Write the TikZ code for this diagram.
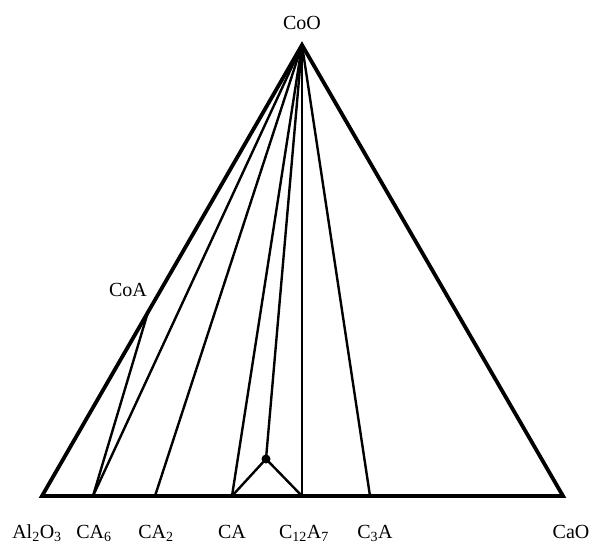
\documentclass[tikz,border=0pt]{standalone}
\usepackage{fontspec}
\setmainfont{Liberation Serif}
\begin{document}
\begin{tikzpicture}[x=1pt,y=-1pt,
  lbl/.style={font=\fontsize{20}{22}\selectfont,anchor=base,inner sep=0pt},
  outer/.style={line width=3.8pt,line join=miter},
  tie/.style={line width=2.4pt},
  thin/.style={line width=1.3pt}]
\useasboundingbox (0,0) rectangle (590,543);
\coordinate (A) at (42,496);
\coordinate (T) at (302,45);
\coordinate (C) at (563,496);
\coordinate (CoA) at (148,312);
\coordinate (CA6) at (93,496);
\coordinate (CA2) at (155,496);
\coordinate (CA) at (232,496);
\coordinate (C12) at (302,496);
\coordinate (C3A) at (370,496);
\coordinate (P) at (266,459);
% ties
\draw[tie] (T) -- (CA6);
\draw[tie] (T) -- (CA2);
\draw[tie] (T) -- (CA);
\draw[tie] (T) -- (P);
\draw[thin] (T) -- (C12);
\draw[tie] (T) -- (C3A);
\draw[tie] (CoA) -- (CA6);
\draw[tie] (CA) -- (P) -- (C12);
\fill (P) circle (4.5);
% outer triangle
\draw[outer] (A) -- (T) -- (C) -- cycle;
% labels
\node[lbl] (lCoO) at (302,30) {CoO};
\node[lbl] (lCoA) at (128,296) {CoA};
\node[lbl] (lAl) at (37,538) {Al\textsubscript{2}O\textsubscript{3}};
\node[lbl] (lCA6) at (94,538) {CA\textsubscript{6}};
\node[lbl] (lCA2) at (156,538) {CA\textsubscript{2}};
\node[lbl] (lCA) at (232,538) {CA};
\node[lbl] (lC12) at (304,538) {C\textsubscript{12}A\textsubscript{7}};
\node[lbl] (lC3A) at (375,538) {C\textsubscript{3}A};
\node[lbl] (lCaO) at (571,538) {CaO};
\end{tikzpicture}
\end{document}
